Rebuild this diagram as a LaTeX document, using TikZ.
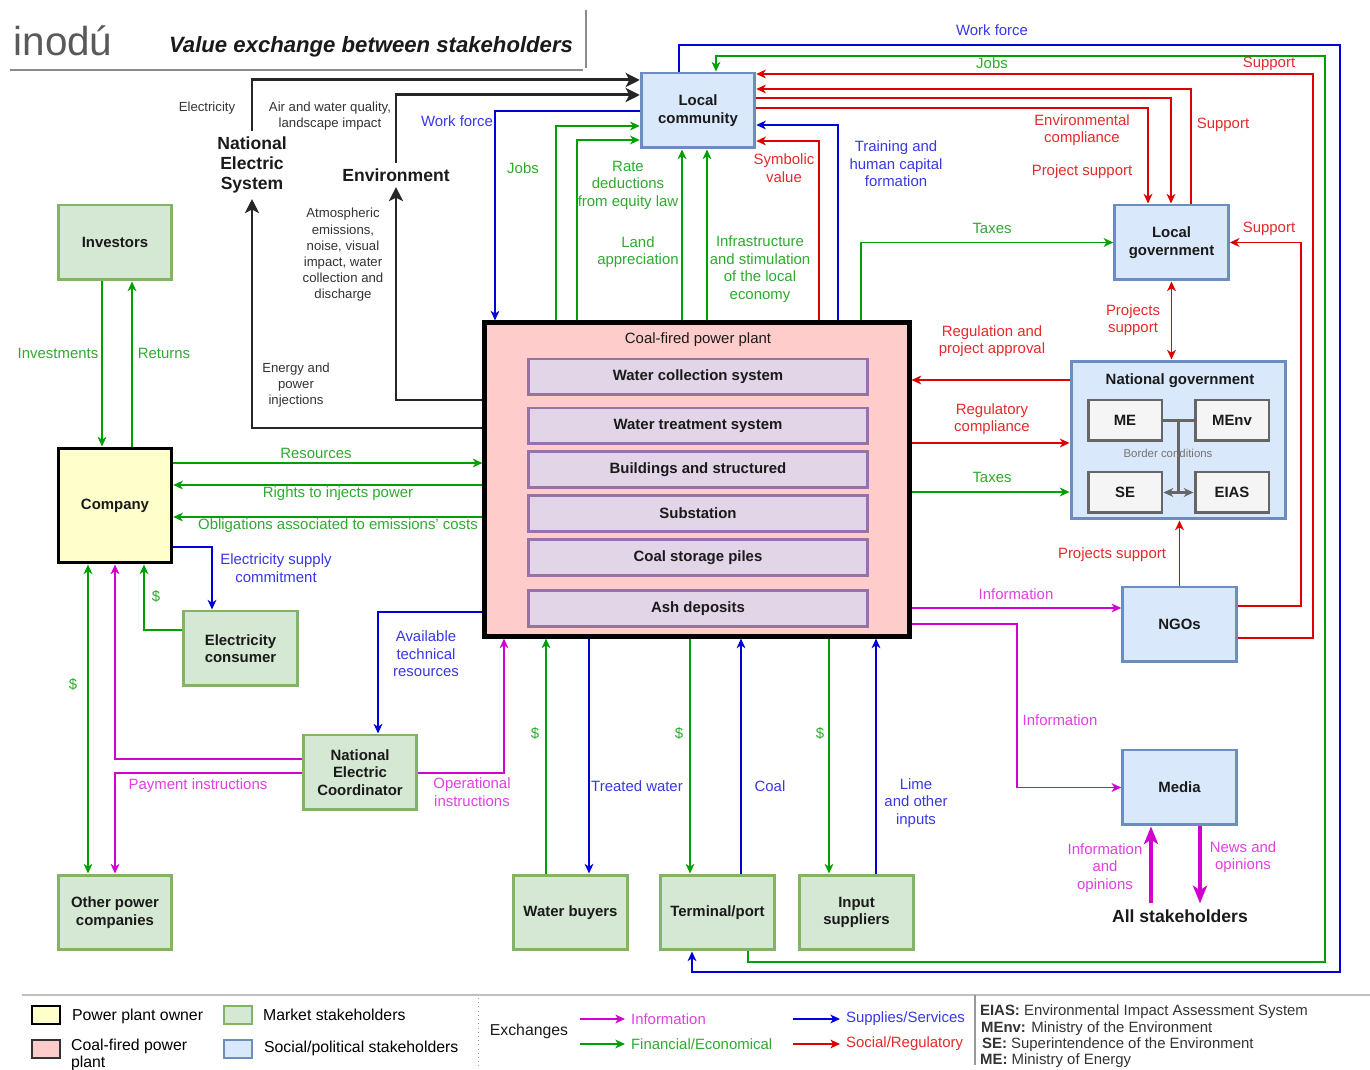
\documentclass[tikz,border=0pt]{standalone}
\usepackage{fontspec}
\setmainfont{Liberation Sans}
\usetikzlibrary{arrows.meta,calc}

\definecolor{finline}{HTML}{00A000}
\definecolor{fintext}{HTML}{2EAA2E}
\definecolor{supline}{HTML}{0000D8}
\definecolor{suptext}{HTML}{3838E6}
\definecolor{socline}{HTML}{DD0000}
\definecolor{soctext}{HTML}{E42A2A}
\definecolor{infoline}{HTML}{D000D0}
\definecolor{infotext}{HTML}{E040E0}
\definecolor{mktfill}{HTML}{D5E8D4}
\definecolor{mktdraw}{HTML}{82B366}
\definecolor{polfill}{HTML}{DAE8FC}
\definecolor{poldraw}{HTML}{6C8EBF}
\definecolor{partfill}{HTML}{E1D5E7}
\definecolor{partdraw}{HTML}{9673A6}
\definecolor{plantfill}{HTML}{FFCCCC}
\definecolor{ownerfill}{HTML}{FFFFCC}
\definecolor{ink}{HTML}{1A1A1A}

\newcommand{\lblfont}{\fontsize{8.5}{10}\selectfont}
\newcommand{\boxfont}{\fontsize{8.5}{10}\selectfont\bfseries}
\newcommand{\smallfont}{\fontsize{7.5}{9.2}\selectfont}
\newcommand{\keyfont}{\fontsize{9}{9.6}\selectfont}

\begin{document}
\begin{tikzpicture}[
    x=0.02cm, y=-0.02cm,
    >={Stealth[length=5.5pt,width=5pt,inset=1.6pt]},
    stake/.style={draw, line width=1.7pt, minimum width=2.27cm, minimum height=1.5cm, align=center, font=\boxfont, text=ink, inner sep=2pt},
    market/.style={stake, fill=mktfill, draw=mktdraw},
    social/.style={stake, fill=polfill, draw=poldraw},
    unit/.style={draw=partdraw, fill=partfill, line width=1.7pt, minimum width=6.8cm, minimum height=0.72cm, font=\boxfont, text=ink},
    office/.style={draw=black!60, fill=black!4, line width=1.7pt, minimum width=1.48cm, minimum height=0.82cm, font=\boxfont, text=ink},
    swatch/.style={line width=1.5pt, minimum width=0.56cm, minimum height=0.36cm, inner sep=0pt},
    tag/.style={align=center, font=\lblfont, inner sep=1pt},
    fintag/.style={tag, text=fintext},
    suptag/.style={tag, text=suptext},
    soctag/.style={tag, text=soctext},
    infotag/.style={tag, text=infotext},
    inktag/.style={align=center, font=\smallfont, text=black!80, inner sep=1pt},
    keytag/.style={anchor=west, font=\lblfont, inner sep=1pt},
    arrow/.style={->, line width=0.75pt},
    finarrow/.style={arrow, draw=finline},
    suparrow/.style={arrow, draw=supline},
    socarrow/.style={arrow, draw=socline},
    infoarrow/.style={arrow, draw=infoline},
    heavyarrow/.style={draw=black!85, line width=1.7pt, -{Stealth[length=8pt,width=8pt,inset=2pt]}},
    mediaarrow/.style={draw=infoline, line width=2.2pt, -{Stealth[length=10pt,width=8pt,inset=2.5pt]}}
]
    \useasboundingbox (0,0) rectangle (1370,1070);

    % header
    \node[text=black!65, font=\fontsize{23}{25}\selectfont] (brand) at (63,41) {inodú};
    \node[text=ink, font=\fontsize{12.6}{14}\selectfont\bfseries\itshape] (title) at (371,47) {Value exchange between stakeholders};
    \draw[black!45, line width=1.5pt] (10,70) -- (583,70);
    \draw[black!45, line width=1.5pt] (586,10) -- (586,68);

    % power plant
    \node[draw=black, fill=plantfill, line width=2.4pt, minimum width=8.5cm, minimum height=6.28cm] (plant) at (697,479.5) {};
    \node[font=\lblfont, text=ink] (ptitle) at (698,340) {Coal-fired power plant};
    \node[unit] (u1) at (698,377) {Water collection system};
    \node[unit] (u2) at (698,426) {Water treatment system};
    \node[unit] (u3) at (698,469.5) {Buildings and structured};
    \node[unit] (u4) at (698,513.5) {Substation};
    \node[unit] (u5) at (698,557.5) {Coal storage piles};
    \node[unit] (u6) at (698,608.5) {Ash deposits};

    % social and political stakeholders
    \node[social] (comm) at (698,110.5) {Local\\community};
    \node[social] (lgov) at (1171.5,242.5) {Local\\government};
    \node[social, minimum width=4.3cm, minimum height=3.16cm] (ngov) at (1178.5,440) {};
    \node[font=\boxfont, text=ink] (ngtitle) at (1180,381) {National government};
    \node[office] (me) at (1125,420.5) {ME};
    \node[office] (menv) at (1232,420.5) {MEnv};
    \node[office] (se) at (1125,492.5) {SE};
    \node[office] (eias) at (1232,492.5) {EIAS};
    \node[social] (ngo) at (1179.5,624.5) {NGOs};
    \node[social] (media) at (1179.5,787.5) {Media};
    \node[font=\fontsize{10}{12}\selectfont\bfseries, text=ink] (allst) at (1180,916) {All stakeholders};

    % market stakeholders
    \node[market] (inv) at (115,242.5) {Investors};
    \node[stake, fill=ownerfill, draw=black, minimum height=2.3cm] (comp) at (115,505.5) {Company};
    \node[market] (econ) at (240.5,648.5) {Electricity\\consumer};
    \node[market] (nec) at (360,772.5) {National\\Electric\\Coordinator};
    \node[market] (opc) at (115,912.5) {Other power\\companies};
    \node[market] (wbuy) at (570.5,912.5) {Water buyers};
    \node[market] (term) at (717.5,912.5) {Terminal/port};
    \node[market] (inp) at (856.5,912.5) {Input\\suppliers};

    \node[font=\fontsize{10}{11.5}\selectfont\bfseries, text=ink, align=center, inner sep=3pt] (nes) at (252,165) {National\\Electric\\System};
    \node[font=\fontsize{10}{11.5}\selectfont\bfseries, text=ink, inner sep=3pt] (env) at (396,175) {Environment};

    % national government inside
    \draw[black!60, line width=1.3pt] (me.east) -- (menv.west);
    \draw[black!60, line width=1.3pt] ($(me.east)!0.5!(menv.west)$) -- ($(se.east)!0.5!(eias.west)$);
    \draw[black!60, line width=1.3pt, <->] (se.east) -- (eias.west);
    \node[font=\fontsize{6.5}{8}\selectfont, text=black!55] (border) at (1168,453) {Border conditions};

    % black flows
    \draw[heavyarrow] (plant.west |- 0,428) -| (nes.south);
    \draw[heavyarrow] (plant.west |- 0,400) -| (env.south);
    \draw[heavyarrow] (nes.north) |- (comm.west |- 0,80);
    \draw[heavyarrow] (env.north) |- (comm.west |- 0,95);
    \node[inktag] (tElec) at (207,108) {Electricity};
    \node[inktag] (tAir) at (330,116) {Air and water quality,\\landscape impact};
    \node[inktag] (tAtm) at (343,255) {Atmospheric\\emissions,\\noise, visual\\impact, water\\collection and\\discharge};
    \node[inktag] (tInj) at (296,385) {Energy and\\power\\injections};

    % local community
    \draw[suparrow] (comm.west |- 0,111) -| (plant.north -| 495,0);
    \draw[finarrow] (plant.north -| 556,0) |- (comm.west |- 0,126);
    \draw[finarrow] (plant.north -| 577,0) |- (comm.west |- 0,140);
    \draw[finarrow] (plant.north -| 682,0) -- (comm.south -| 682,0);
    \draw[finarrow] (plant.north -| 707,0) -- (comm.south -| 707,0);
    \draw[socarrow] (plant.north -| 819,0) |- (comm.east |- 0,141);
    \draw[suparrow] (plant.north -| 838,0) |- (comm.east |- 0,125);
    \draw[suparrow] (comm.north -| 679,0) |- (1340,45) |- (692,972) -- (term.south -| 692,0);
    \draw[finarrow] (term.south -| 748,0) |- (1325,962) |- (716,56) -- (comm.north -| 716,0);
    \draw[socarrow] (ngo.east |- 0,638) -| (1313,74) -- (comm.east |- 0,74);
    \draw[socarrow] (lgov.north -| 1191,0) |- (comm.east |- 0,89);
    \draw[socarrow] (comm.east |- 0,98) -| (lgov.north -| 1171,0);
    \draw[socarrow] (comm.east |- 0,108) -| (lgov.north -| 1148,0);
    \node[suptag] (tWork) at (457,121) {Work force};
    \node[fintag] (tJobs) at (523,168) {Jobs};
    \node[fintag] (tRate) at (628,185) {Rate\\deductions\\from equity law};
    \node[fintag] (tLand) at (638,252) {Land\\appreciation};
    \node[fintag] (tInfra) at (760,269) {Infrastructure\\and stimulation\\of the local\\economy};
    \node[soctag] (tSymb) at (784,168) {Symbolic\\value};
    \node[suptag] (tTrain) at (896,164) {Training and\\human capital\\formation};
    \node[suptag] (tWork2) at (992,30) {Work force};
    \node[fintag] (tJobs2) at (992,63) {Jobs};
    \node[soctag] (tSup1) at (1269,64) {Support};
    \node[soctag] (tSup2) at (1223,125) {Support};
    \node[soctag] (tEnvc) at (1082,130) {Environmental\\compliance};
    \node[soctag] (tProj) at (1082,172) {Project support};

    % governments and NGOs
    \draw[finarrow] (plant.north -| 861,0) |- (lgov.west);
    \draw[socarrow] (ngo.east |- 0,606) -| (1301,242.5) -- (lgov.east);
    \draw[socarrow, <->] (lgov.south) -- (ngov.north -| lgov.south);
    \draw[socarrow] (ngov.west |- 0,380) -- (plant.east |- 0,380);
    \draw[socarrow] (plant.east |- 0,443) -- (ngov.west |- 0,443);
    \draw[finarrow] (plant.east |- 0,492) -- (ngov.west |- 0,492);
    \draw[socarrow] (ngo.north) -- (ngov.south -| ngo.north);
    \draw[infoarrow] (plant.east |- 0,608) -- (ngo.west |- 0,608);
    \draw[infoarrow] (plant.east |- 0,624) -| (1017,787.5) -- (media.west);
    \draw[mediaarrow] (allst.north -| 1151,0) -- (media.south -| 1151,0);
    \draw[mediaarrow] (media.south -| 1200,0) -- (allst.north -| 1200,0);
    \node[fintag] (tTax1) at (992,228) {Taxes};
    \node[soctag] (tSup3) at (1269,229) {Support};
    \node[soctag] (tPs1) at (1133,320) {Projects\\support};
    \node[soctag] (tReg) at (992,341) {Regulation and\\project approval};
    \node[soctag] (tComp) at (992,419) {Regulatory\\compliance};
    \node[fintag] (tTax2) at (992,477) {Taxes};
    \node[soctag] (tPs2) at (1112,555) {Projects support};
    \node[infotag] (tInfo1) at (1016,594) {Information};
    \node[infotag] (tInfo2) at (1060,720) {Information};
    \node[infotag] (tInfo3) at (1105,868) {Information\\and\\opinions};
    \node[infotag] (tNews) at (1243,857) {News and\\opinions};

    % company side
    \draw[finarrow] (inv.south -| 102,0) -- (comp.north -| 102,0);
    \draw[finarrow] (comp.north -| 132,0) -- (inv.south -| 132,0);
    \draw[finarrow] (comp.east |- 0,463) -- (plant.west |- 0,463);
    \draw[finarrow] (plant.west |- 0,485) -- (comp.east |- 0,485);
    \draw[finarrow] (plant.west |- 0,517) -- (comp.east |- 0,517);
    \draw[suparrow] (comp.east |- 0,547) -| (econ.north -| 212,0);
    \draw[finarrow] (econ.west |- 0,630) -| (comp.south -| 144,0);
    \draw[finarrow, <->] (comp.south -| 88,0) -- (opc.north -| 88,0);
    \draw[infoarrow] (nec.west |- 0,759) -| (comp.south -| 115,0);
    \draw[infoarrow] (nec.west |- 0,773) -| (opc.north -| 115,0);
    \draw[suparrow] (plant.west |- 0,612) -| (nec.north -| 378,0);
    \draw[infoarrow] (nec.east |- 0,773) -| (plant.south -| 504,0);
    \node[fintag] (tInv) at (58,353) {Investments};
    \node[fintag] (tRet) at (164,353) {Returns};
    \node[fintag] (tRes) at (316,453) {Resources};
    \node[fintag] (tRights) at (338,494) {Rights to injects power};
    \node[fintag] (tObl) at (338,526) {Obligations associated to emissions' costs};
    \node[suptag] (tSupply) at (276,568) {Electricity supply\\commitment};
    \node[fintag] (tUsd1) at (156,596) {\$};
    \node[fintag] (tUsd2) at (73,684) {\$};
    \node[suptag] (tAvail) at (426,654) {Available\\technical\\resources};
    \node[infotag] (tPay) at (198,786) {Payment instructions};
    \node[infotag] (tOper) at (472,792) {Operational\\instructions};

    % bottom suppliers
    \draw[finarrow] (wbuy.north -| 546,0) -- (plant.south -| 546,0);
    \draw[suparrow] (plant.south -| 589,0) -- (wbuy.north -| 589,0);
    \draw[finarrow] (plant.south -| 690,0) -- (term.north -| 690,0);
    \draw[suparrow] (term.north -| 741,0) -- (plant.south -| 741,0);
    \draw[finarrow] (plant.south -| 829,0) -- (inp.north -| 829,0);
    \draw[suparrow] (inp.north -| 876,0) -- (plant.south -| 876,0);
    \node[fintag] (tUsd3) at (535,733) {\$};
    \node[fintag] (tUsd4) at (679,733) {\$};
    \node[fintag] (tUsd5) at (820,733) {\$};
    \node[suptag] (tWater) at (637,786) {Treated water};
    \node[suptag] (tCoal) at (770,786) {Coal};
    \node[suptag] (tLime) at (916,803) {Lime\\and other\\inputs};

    % legend
    \draw[black!25, line width=1pt] (22,995) -- (1370,995);
    \draw[black!40, dotted] (478,998) -- (478,1070);
    \draw[black!40, line width=0.8pt] (975,995) -- (975,1065);
    \node[swatch, draw=black, fill=ownerfill] (kOwner) at (46,1015) {};
    \node[swatch, draw=black!80, fill=plantfill] (kPlant) at (46,1049) {};
    \node[swatch, draw=mktdraw, fill=mktfill] (kMkt) at (238,1015) {};
    \node[swatch, draw=poldraw, fill=polfill] (kPol) at (238,1049) {};
    \node[keytag, font=\keyfont] (lOwner) at (70,1016) {Power plant owner};
    \node[keytag, font=\keyfont, anchor=north west, align=left] (lPlant) at (69,1037) {Coal-fired power\\plant};
    \node[keytag, font=\keyfont] (lMkt) at (261,1015) {Market stakeholders};
    \node[keytag, font=\keyfont] (lPol) at (262,1048) {Social/political stakeholders};
    \node[font=\keyfont, text=ink] (lExch) at (529,1031) {Exchanges};
    \coordinate (kInfoA) at (580,1019);
    \coordinate (kInfoB) at (625,1019);
    \coordinate (kFinA) at (580,1044);
    \coordinate (kFinB) at (625,1044);
    \coordinate (kSupA) at (793,1019);
    \coordinate (kSupB) at (840,1019);
    \coordinate (kSocA) at (793,1044);
    \coordinate (kSocB) at (840,1044);
    \draw[infoarrow] (kInfoA) -- (kInfoB);
    \draw[finarrow] (kFinA) -- (kFinB);
    \draw[suparrow] (kSupA) -- (kSupB);
    \draw[socarrow] (kSocA) -- (kSocB);
    \node[keytag, text=infotext] (lInfo) at (629,1019) {Information};
    \node[keytag, text=fintext] (lFin) at (629,1044) {Financial/Economical};
    \node[keytag, text=suptext] (lSup) at (844,1019) {Supplies/Services};
    \node[keytag, text=soctext] (lSoc) at (844,1044) {Social/Regulatory};
    \node[keytag, text=black!80] (aEias) at (978,1012) {\textbf{EIAS:} Environmental Impact Assessment System};
    \node[keytag, text=black!80] (aMenv) at (979,1029) {\textbf{MEnv:} Ministry of the Environment};
    \node[keytag, text=black!80] (aSe) at (980,1045) {\textbf{SE:} Superintendence of the Environment};
    \node[keytag, text=black!80] (aMe) at (978,1061) {\textbf{ME:} Ministry of Energy};
\end{tikzpicture}
\end{document}
